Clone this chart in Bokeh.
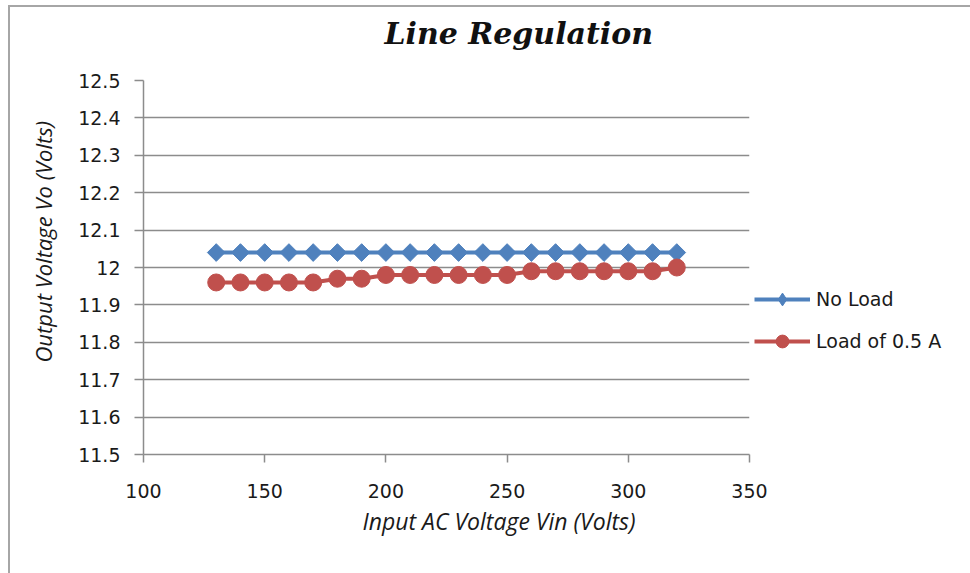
import math
from bokeh.plotting import figure
from bokeh.models import FixedTicker, Legend, LegendItem, Title, Range1d, ColumnDataSource
from bokeh.embed import file_html
from bokeh.resources import INLINE

# ---- data ----
vin = [130, 140, 150, 160, 170, 180, 190, 200, 210, 220,
       230, 240, 250, 260, 270, 280, 290, 300, 310, 320]
no_load = [12.04, 12.04, 12.04, 12.04, 12.04, 12.04, 12.04, 12.04, 12.04, 12.04,
           12.04, 12.04, 12.04, 12.04, 12.04, 12.04, 12.04, 12.04, 12.04, 12.04]
load_05 = [11.96, 11.96, 11.96, 11.96, 11.96, 11.97, 11.97, 11.98, 11.98, 11.98,
           11.98, 11.98, 11.98, 11.99, 11.99, 11.99, 11.99, 11.99, 11.99, 12.00]

x_ticks = [100, 150, 200, 250, 300, 350]
y_ticks = [11.5, 11.6, 11.7, 11.8, 11.9, 12.0, 12.1, 12.2, 12.3, 12.4, 12.5]
y_tick_labels = ["11.5", "11.6", "11.7", "11.8", "11.9", "12", "12.1", "12.2", "12.3", "12.4", "12.5"]

series_names = ["No Load", "Load of 0.5 A"]
title_text = "Line Regulation"
x_title = "Input AC Voltage Vin (Volts)"
y_title = "Output Voltage Vo (Volts)"

BLUE = "#4F81BD"
RED = "#C0504D"
GRID = "#8c8c8c"

src = ColumnDataSource(dict(vin=vin, no_load=no_load, load_05=load_05))

p = figure(frame_width=606, frame_height=374, output_backend="svg", toolbar_location=None,
           x_range=Range1d(100, 350), y_range=Range1d(11.5, 12.5),
           min_border_left=133, min_border_right=221, min_border_top=73, min_border_bottom=119)
p.styles = {"margin-left": "8px", "margin-top": "5px",
            "border-left": "2px solid #a6a6a6", "border-top": "2px solid #a6a6a6"}
p.outline_line_color = None
p.background_fill_color = "white"
p.border_fill_color = "white"

# chart title (a blank spacer title sits between it and the plot area)
p.title.text = title_text
p.title.align = "left"
p.title.vertical_align = "top"
p.title.offset = 241
p.title.text_font = "DejaVu Serif"
p.title.text_font_style = "bold italic"
p.title.text_font_size = "30px"
p.title.text_color = "#111111"
p.title.standoff = 6
p.add_layout(Title(text=" ", text_font_size="16px", standoff=6), "above")

# axes
for ax in (p.xaxis[0], p.yaxis[0]):
    ax.axis_line_color = GRID
    ax.axis_line_width = 1.5
    ax.major_tick_line_color = GRID
    ax.major_tick_line_width = 1.5
    ax.major_tick_in = 0
    ax.minor_tick_line_color = None
    ax.major_label_text_font = "DejaVu Sans"
    ax.major_label_text_font_size = "19px"
    ax.major_label_text_color = "#1a1a1a"

p.xaxis.ticker = FixedTicker(ticks=x_ticks)
p.xaxis.major_tick_out = 8
p.xaxis.major_label_standoff = 21
p.yaxis.ticker = FixedTicker(ticks=y_ticks)
p.yaxis.major_tick_out = 9
p.yaxis.major_label_standoff = 14
p.yaxis.major_label_overrides = {t: l for t, l in zip(y_ticks, y_tick_labels)}

p.xgrid.grid_line_color = None
p.ygrid.ticker = FixedTicker(ticks=y_ticks)
p.ygrid.grid_line_color = GRID
p.ygrid.grid_line_width = 1.5

# axis titles as side titles (to allow off-centre placement)
p.add_layout(Title(text=x_title, align="left", offset=219, standoff=5,
                   text_font="Open Sans", text_font_style="italic",
                   text_font_size="23px", text_color="#1a1a1a"), "below")
p.add_layout(Title(text=y_title, align="left", vertical_align="middle", offset=92, standoff=33,
                   text_font="Open Sans", text_font_style="italic",
                   text_font_size="22px", text_color="#1a1a1a"), "left")

# series
l1 = p.line("vin", "no_load", source=src, line_color=BLUE, line_width=4)
m1 = p.scatter("vin", "no_load", source=src, marker="square", angle=math.pi / 4,
               size=12.5, fill_color=BLUE, line_color=BLUE)
l2 = p.line("vin", "load_05", source=src, line_color=RED, line_width=4)
m2 = p.scatter("vin", "load_05", source=src, marker="circle", size=17,
               fill_color=RED, line_color=RED)

# legend-only marker renderers (kept outside the visible x range)
lg1 = p.scatter([0], [12.0], marker="diamond", fill_color=BLUE, line_color=BLUE)
lg2 = p.scatter([0], [12.0], marker="circle", fill_color=RED, line_color=RED)

legend = Legend(items=[LegendItem(label=series_names[0], renderers=[l1, lg1]),
                       LegendItem(label=series_names[1], renderers=[l2, lg2])],
                location=(5, 97), orientation="vertical",
                glyph_width=56, glyph_height=32, label_height=32, spacing=10,
                label_standoff=6, padding=0, margin=0,
                border_line_color=None, background_fill_alpha=0,
                label_text_font="DejaVu Sans", label_text_font_size="19px",
                label_text_color="#1a1a1a")
p.add_layout(legend, "right")

open("out.html", "w").write(file_html(p, INLINE))
